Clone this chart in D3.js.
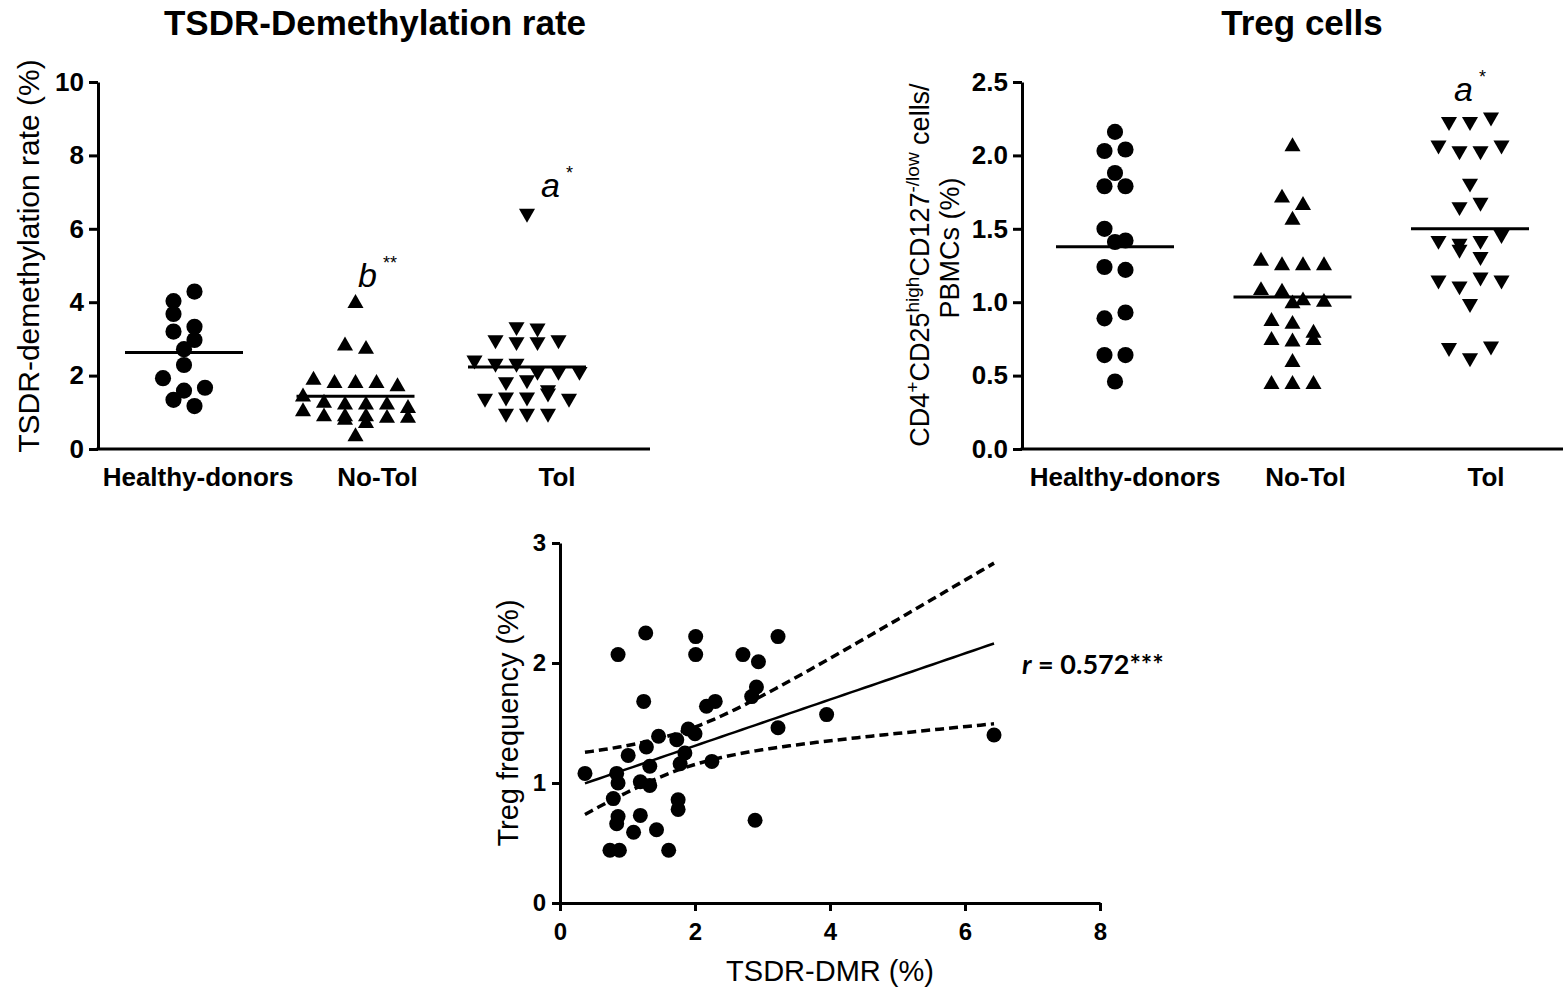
<!DOCTYPE html>
<html>
<head>
<meta charset="utf-8">
<script src="https://cdn.jsdelivr.net/npm/d3@7"></script>
<style>
  body { margin: 0; background: #fff; }
  text { font-family: "Liberation Sans", Arial, sans-serif; fill: #000; }
</style>
</head>
<body>
<div id="chart"></div>
<script>
var width = 1568,
    height = 987;

// ---- data ----
var groups = ["Healthy-donors", "No-Tol", "Tol"];

var tsdrHealthy = [4.03, 4.29, 3.68, 3.20, 3.33, 2.97, 2.72, 2.29, 1.93, 1.59, 1.67, 1.34, 1.17];
var tsdrNoTol = [3.97, 2.81, 2.72, 1.88, 1.79, 1.79, 1.79, 1.70, 1.42, 1.25, 1.20, 1.20,
                 1.20, 1.11, 1.02, 0.88, 0.88, 0.88, 0.84, 0.84, 0.79, 0.70, 0.34];
var tsdrTol = [6.42, 3.33, 3.29, 2.97, 2.92, 2.92, 2.97, 2.42, 2.33, 2.33, 2.11, 2.11,
               2.11, 1.83, 1.88, 1.61, 1.38, 1.41, 1.41, 1.52, 1.38, 0.97, 0.97, 0.97];

var tregHealthy = [2.16, 2.03, 2.04, 1.88, 1.79, 1.79, 1.50, 1.41, 1.42, 1.24, 1.22, 0.89,
                   0.93, 0.64, 0.64, 0.46];
var tregNoTol = [2.06, 1.71, 1.66, 1.56, 1.28, 1.25, 1.25, 1.25, 1.08, 1.07, 1.01, 0.99,
                 1.00, 0.87, 0.85, 0.79, 0.74, 0.73, 0.74, 0.59, 0.44, 0.44, 0.44];
var tregTol = [2.23, 2.23, 2.26, 2.07, 2.03, 2.03, 2.07, 1.81, 1.65, 1.68, 1.42, 1.40,
               1.36, 1.42, 1.46, 1.31, 1.15, 1.11, 1.17, 1.15, 0.99, 0.69, 0.62, 0.70];

// scatter: TSDR-DMR (x) vs Treg frequency (y)
var dmrX = [0.37, 0.84, 0.86, 1.01, 1.28, 1.46, 1.33, 1.19, 1.33, 1.73, 1.85, 1.78, 2.00, 1.90,
            2.25, 0.79, 0.86, 0.84, 1.19, 1.75, 1.75, 1.09, 1.43, 0.74, 0.88, 1.61, 1.27, 2.01,
            2.01, 3.23, 0.86, 2.71, 2.94, 2.91, 2.84, 1.24, 2.17, 2.30, 3.95, 3.23, 2.89, 6.43];
var tregY = [1.08, 1.08, 1.00, 1.23, 1.30, 1.39, 1.14, 1.01, 0.98, 1.36, 1.25, 1.16, 1.41, 1.45,
             1.18, 0.87, 0.72, 0.66, 0.73, 0.86, 0.78, 0.59, 0.61, 0.44, 0.44, 0.44, 2.25, 2.22,
             2.07, 2.22, 2.07, 2.07, 2.01, 1.80, 1.72, 1.68, 1.64, 1.68, 1.57, 1.46, 0.69, 1.40];

var tsdrTicks = [0, 2, 4, 6, 8, 10];
var tregTicks = [0, 0.5, 1.0, 1.5, 2.0, 2.5];
var scatterXTicks = [0, 2, 4, 6, 8];
var scatterYTicks = [0, 1, 2, 3];

var rText = "0.572***";

var svg = d3.select('#chart')
    .append('svg')
    .attr('width', width)
    .attr('height', height);

var shapes = {
    "Healthy-donors": {type: d3.symbolCircle, size: 205, rot: 0},
    "No-Tol": {type: d3.symbolTriangle, size: 112, rot: 0},
    "Tol": {type: d3.symbolTriangle, size: 112, rot: 180}
};

// simple GraphPad-like column scatter: stack points into rows and spread them
function swarm(values, y, cx) {
    var pts = values.map(function (v, i) { return {v: v, i: i, py: y(v)}; })
        .sort(function (a, b) { return a.py - b.py; });
    var rows = [], cur = null;
    pts.forEach(function (p) {
        if (!cur || p.py - cur.y0 > 13 || cur.items.length >= 6) {
            cur = {y0: p.py, items: []};
            rows.push(cur);
        }
        cur.items.push(p);
    });
    rows.forEach(function (r) {
        var k = r.items.length,
            step = k > 1 ? Math.min(21, 108 / (k - 1)) : 0;
        r.items.sort(function (a, b) { return a.i - b.i; });
        r.items.forEach(function (p, j) { p.px = cx + (j - (k - 1) / 2) * step; });
    });
    return pts;
}

function columnPanel(opt) {
    var g = svg.append('g');
    var y = d3.scaleLinear().domain(opt.domain).range([opt.yBot, opt.yTop]);
    var xm = d3.scalePoint().domain(groups).range(opt.markRange);
    var xl = d3.scalePoint().domain(groups).range(opt.labelRange);

    // y axis
    var ax = g.append('g')
        .attr('transform', 'translate(' + opt.x0 + ',0)')
        .call(d3.axisLeft(y).tickValues(opt.ticks).tickSize(9).tickSizeOuter(0)
              .tickPadding(5).tickFormat(opt.fmt));
    ax.select('.domain').attr('stroke-width', 3);
    ax.selectAll('.tick line').attr('stroke-width', 3);
    ax.selectAll('.tick text')
        .style('font-size', '26px').style('font-weight', 'bold')
        .attr('fill', '#000');

    // x axis line + labels
    g.append('line')
        .attr('x1', opt.x0 - 1.5).attr('x2', opt.x1)
        .attr('y1', y(opt.domain[0])).attr('y2', y(opt.domain[0]))
        .attr('stroke', '#000').attr('stroke-width', 3);
    g.selectAll('text.cat')
        .data(groups)
        .enter()
        .append('text')
        .classed('cat', true)
        .attr('x', function (d) { return xl(d); })
        .attr('y', y(opt.domain[0]) + 37)
        .attr('text-anchor', 'middle')
        .style('font-size', '26px').style('font-weight', 'bold')
        .text(function (d) { return d; });

    // points + mean lines
    groups.forEach(function (grp, gi) {
        var vals = opt.series[gi],
            pts = swarm(vals, y, xm(grp)),
            sh = shapes[grp];
        g.selectAll(null)
            .data(pts)
            .enter()
            .append('path')
            .attr('d', d3.symbol().type(sh.type).size(sh.size))
            .attr('transform', function (d) {
                return 'translate(' + d.px + ',' + d.py + ') rotate(' + sh.rot + ')';
            })
            .attr('fill', '#000');
        var m = d3.mean(vals);
        g.append('line')
            .attr('x1', xm(grp) - 59).attr('x2', xm(grp) + 59)
            .attr('y1', y(m)).attr('y2', y(m))
            .attr('stroke', '#000').attr('stroke-width', 3);
    });

    // significance letters
    opt.notes.forEach(function (n) {
        var gi = groups.indexOf(n.group),
            top = y(d3.max(opt.series[gi])),
            t = g.append('text')
                .attr('x', xm(n.group) + n.dx)
                .attr('y', top - 16)
                .attr('text-anchor', 'middle')
                .style('font-size', '34px').style('font-style', 'italic')
                .text(n.letter);
        t.append('tspan')
            .attr('dy', -18).attr('dx', 6)
            .style('font-size', '18px').style('font-style', 'normal')
            .text(n.stars);
    });

    // titles
    g.append('text')
        .attr('x', opt.titleX).attr('y', 35)
        .attr('text-anchor', 'middle')
        .style('font-size', '35px').style('font-weight', 'bold')
        .text(opt.title);
    return g;
}

columnPanel({
    title: "TSDR-Demethylation rate", titleX: 375,
    domain: [0, 10], ticks: tsdrTicks, fmt: d3.format('d'),
    x0: 98, x1: 650, yTop: 82, yBot: 449,
    markRange: [184, 527], labelRange: [198, 557],
    series: [tsdrHealthy, tsdrNoTol, tsdrTol],
    notes: [{group: "No-Tol", letter: "b", stars: "**", dx: 22},
            {group: "Tol", letter: "a", stars: "*", dx: 30}]
});

columnPanel({
    title: "Treg cells", titleX: 1302,
    domain: [0, 2.5], ticks: tregTicks, fmt: d3.format('.1f'),
    x0: 1022, x1: 1563, yTop: 82, yBot: 449,
    markRange: [1115, 1470], labelRange: [1125, 1486],
    series: [tregHealthy, tregNoTol, tregTol],
    notes: [{group: "Tol", letter: "a", stars: "*", dx: 0}]
});

// y labels of the two column panels
svg.append('text')
    .attr('transform', 'translate(39,256) rotate(-90)')
    .attr('text-anchor', 'middle')
    .style('font-size', '30px')
    .text("TSDR-demethylation rate (%)");

var lab = svg.append('text')
    .attr('transform', 'translate(929,265) rotate(-90)')
    .attr('text-anchor', 'middle')
    .style('font-size', '27px');
[["CD4", 0], ["+", 1], ["CD25", 0], ["high", 1], ["CD127", 0], ["-/low", 1], [" cells/", 0]]
    .forEach(function (p) {
        lab.append('tspan')
            .attr('baseline-shift', p[1] ? '55%' : '0%')
            .style('font-size', p[1] ? '19px' : '27px')
            .text(p[0]);
    });
svg.append('text')
    .attr('transform', 'translate(959,248) rotate(-90)')
    .attr('text-anchor', 'middle')
    .style('font-size', '27px')
    .text("PBMCs (%)");

// ---- scatter with regression ----
var sx = d3.scaleLinear().domain([0, 8]).range([560, 1100]),
    sy = d3.scaleLinear().domain([0, 3]).range([903, 543]);

var gs = svg.append('g');
var axX = gs.append('g').attr('transform', 'translate(0,903)')
    .call(d3.axisBottom(sx).tickValues(scatterXTicks).tickSize(8).tickSizeOuter(0)
          .tickPadding(12).tickFormat(d3.format('d')));
var axY = gs.append('g').attr('transform', 'translate(560,0)')
    .call(d3.axisLeft(sy).tickValues(scatterYTicks).tickSize(8).tickSizeOuter(0)
          .tickPadding(6).tickFormat(d3.format('d')));
[axX, axY].forEach(function (a) {
    a.select('.domain').attr('stroke-width', 3);
    a.selectAll('.tick line').attr('stroke-width', 3);
    a.selectAll('.tick text').style('font-size', '24px').style('font-weight', 'bold').attr('fill', '#000');
});

gs.selectAll('circle.pt')
    .data(dmrX)
    .enter()
    .append('circle')
    .classed('pt', true)
    .attr('cx', function (d) { return sx(d); })
    .attr('cy', function (d, i) { return sy(tregY[i]); })
    .attr('r', 7.5)
    .attr('fill', '#000');

var n = dmrX.length,
    mx = d3.mean(dmrX),
    my = d3.mean(tregY),
    sxx = d3.sum(dmrX, function (x) { return (x - mx) * (x - mx); }),
    sxy = d3.sum(dmrX.map(function (x, i) { return (x - mx) * (tregY[i] - my); })),
    slope = sxy / sxx,
    icpt = my - slope * mx,
    sres = Math.sqrt(d3.sum(dmrX.map(function (x, i) {
        var r = tregY[i] - (icpt + slope * x); return r * r;
    })) / (n - 2)),
    tCrit = 2.021;

var xr = d3.extent(dmrX),
    xs = d3.range(61).map(function (i) { return xr[0] + (xr[1] - xr[0]) * i / 60; });

function band(sign) {
    return xs.map(function (x) {
        return [x, icpt + slope * x + sign * tCrit * sres * Math.sqrt(1 / n + (x - mx) * (x - mx) / sxx)];
    });
}
var line = d3.line()
    .x(function (d) { return sx(d[0]); })
    .y(function (d) { return sy(d[1]); });

gs.append('path').datum(band(0)).attr('d', line)
    .attr('fill', 'none').attr('stroke', '#000').attr('stroke-width', 2.5);
[1, -1].forEach(function (s) {
    gs.append('path').datum(band(s)).attr('d', line)
        .attr('fill', 'none').attr('stroke', '#000').attr('stroke-width', 3.5)
        .attr('stroke-dasharray', '9,5');
});

gs.append('text')
    .attr('transform', 'translate(518,723) rotate(-90)')
    .attr('text-anchor', 'middle')
    .style('font-size', '29px')
    .text("Treg frequency (%)");
gs.append('text')
    .attr('x', 830).attr('y', 981)
    .attr('text-anchor', 'middle')
    .style('font-size', '29px')
    .text("TSDR-DMR (%)");

var rt = gs.append('text')
    .attr('x', 1022).attr('y', 674)
    .style('font-family', 'Lato, "Open Sans", sans-serif')
    .style('font-size', '27px').style('font-weight', 'bold');
rt.append('tspan').style('font-style', 'italic').text('r');
rt.append('tspan').text(' = ' + rText);
</script>
</body>
</html>
